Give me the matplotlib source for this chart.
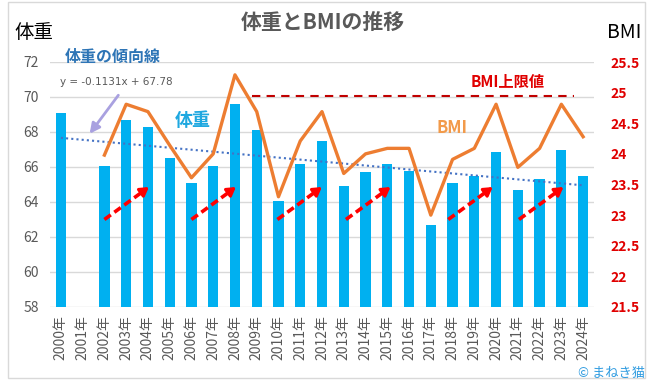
import matplotlib
matplotlib.use("Agg")
import matplotlib.pyplot as plt
from matplotlib.patches import Rectangle
import numpy as np

plt.rcParams['font.family'] = ['Noto Sans CJK JP', 'DejaVu Sans']

years = [f"{y}年" for y in range(2000, 2025)]
weight = [69.1, np.nan, 66.05, 68.7, 68.3, 66.5, 65.1, 66.05, 69.6, 68.1,
          64.05, 66.2, 67.5, 64.9, 65.7, 66.2, 65.75, 62.7, 65.1, 65.5,
          66.85, 64.7, 65.3, 67.0, 65.5]
bmi = [np.nan, np.nan, 23.98, 24.81, 24.69, 24.14, 23.61, 24.0, 25.29, 24.69,
       23.30, 24.21, 24.69, 23.68, 24.0, 24.09, 24.09, 23.0, 23.91, 24.09,
       24.81, 23.78, 24.09, 24.81, 24.28]
trend_slope, trend_icpt = -0.1131, 67.78
bmi_limit = 24.94
limit_span = (8.8, 23.6)
arrow_starts = [2.0, 6.0, 9.95, 13.1, 17.8, 21.05]

W, H = 649, 387
fig = plt.figure(figsize=(W / 100, H / 100), dpi=100)

def px(x, y):
    return x / W, 1 - y / H

# chart border
fig.patches.append(Rectangle(px(8, 378), 637 / W, 376 / H, transform=fig.transFigure,
                             fill=False, ec='#d9d9d9', lw=1))

l, b = px(50, 307)
r, t = px(594, 62)
ax = fig.add_axes([l, b, r - l, t - b])
ax2 = ax.twinx()

x = np.arange(len(years))
ax.bar(x, weight, width=0.47, color='#00b0f0', zorder=2)
ax.set_ylim(58, 72)
ax.set_yticks(range(58, 73, 2))
ax.set_xlim(-0.5, len(years) - 0.5)
ax.set_xticks(x)
ax.set_xticklabels(years, rotation=90, fontsize=9.5, color='#6b6b6b')
ax.grid(axis='y', color='#d9d9d9', lw=1, zorder=0)
ax.set_axisbelow(True)
ax.tick_params(length=0, labelsize=10, labelcolor='#595959')
ax.tick_params(axis='y', pad=8)
ax.tick_params(axis='x', pad=6)

# trend line (Excel linear trend, x = 1..25)
tx = np.arange(1, len(years) + 1)
ax.plot(x, trend_slope * tx + trend_icpt, ls=(0, (1, 1.5)), color='#4472c4', lw=1.5, zorder=3)

# red dashed arrows
for s in arrow_starts:
    x0, y0, x1, y1 = s, 63.0, s + 2.15, 64.95
    ax.plot([x0, x1 - 0.25], [y0, y1 - 0.23], color='#ff0000', lw=2.6,
            ls=(0, (2.2, 1.2)), zorder=4, solid_capstyle='butt')
    ax.annotate('', xy=(x1, y1), xytext=(x1 - 0.4, y1 - 0.36),
                arrowprops=dict(arrowstyle='-|>,head_length=0.5,head_width=0.3',
                                color='#ff0000', lw=2.2), zorder=4)

ax2.plot(x, bmi, color='#ed7d31', lw=2.4, zorder=5)
ax2.hlines(bmi_limit, *limit_span, colors='#c00000', linestyles=(0, (4, 3)), lw=1.5)
ax2.set_ylim(21.5, 25.5)
ticks2 = np.arange(21.5, 25.6, 0.5)
ax2.set_yticks(ticks2)
ax2.set_yticklabels([f"{v:g}" for v in ticks2])
ax2.tick_params(length=0, labelsize=10, labelcolor='#e00000', pad=12)
for lab in ax2.get_yticklabels():
    lab.set_fontweight('bold')

for a in (ax, ax2):
    for sp in a.spines.values():
        sp.set_visible(False)

fig.text(*px(323, 22), '体重とBMIの推移', ha='center', va='center', fontsize=15,
         fontweight='bold', color='#595959')
fig.text(*px(14, 32), '体重', ha='left', va='center', fontsize=14, color='black')
fig.text(*px(641, 32), 'BMI', ha='right', va='center', fontsize=14, color='black')
fig.text(*px(65, 57), '体重の傾向線', ha='left', va='center', fontsize=11.5,
         fontweight='bold', color='#2e75b6')
fig.text(*px(60, 82), 'y = -0.1131x + 67.78', ha='left', va='center', fontsize=7.5,
         color='#595959', family='DejaVu Sans')
fig.text(*px(193, 120), '体重', ha='center', va='center', fontsize=13,
         fontweight='bold', color='#1ea8e0')
fig.text(*px(452, 128), 'BMI', ha='center', va='center', fontsize=12,
         fontweight='bold', color='#f29a4a')
fig.text(*px(508, 82), 'BMI上限値', ha='center', va='center', fontsize=11,
         fontweight='bold', color='#e00000')
fig.text(*px(645, 373), '© まねき猫', ha='right', va='center', fontsize=9.5, color='#2e9be0')

ax.annotate('', xy=px(88, 136), xytext=px(120, 93), xycoords='figure fraction',
            textcoords='figure fraction',
            arrowprops=dict(arrowstyle='-|>,head_length=0.6,head_width=0.3',
                            color='#a9a1e0', lw=2))

fig.savefig('out.png', dpi=100)
